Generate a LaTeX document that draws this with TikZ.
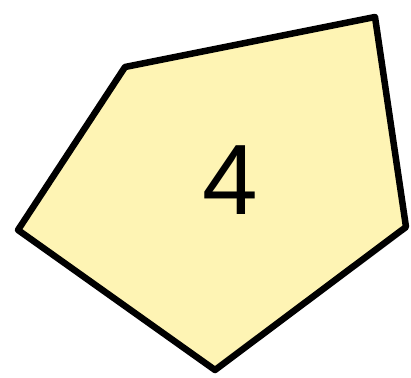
\documentclass[tikz,border=0pt]{standalone}
\usepackage{fontspec}
\setmainfont{Liberation Sans}
\definecolor{fillyellow}{HTML}{FEF4B4}
\tikzset{pent/.style={draw=black, fill=fillyellow, line width=6.5pt, line join=round}}
\begin{document}
\begin{tikzpicture}[x=1pt,y=1pt]
\useasboundingbox (0,0) rectangle (411,377);
\draw[pent] (125,310) -- (375,360) -- (406,150) -- (215,7) -- (18,147) -- cycle;
\node (lbl) at (230,197) {\fontsize{100}{100}\selectfont 4};
\end{tikzpicture}
\end{document}
